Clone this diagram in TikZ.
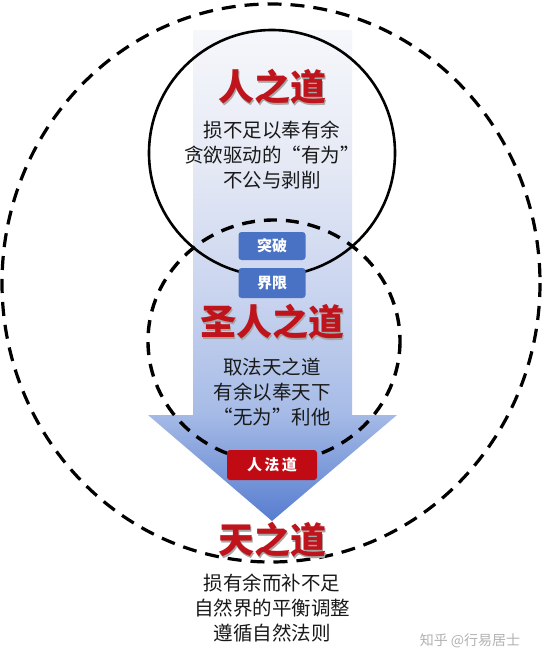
\documentclass[tikz,border=0pt]{standalone}
\usepackage{fontspec}
\newfontfamily\cjk{Noto Sans CJK SC}
\usetikzlibrary{shadings}
\definecolor{titlered}{HTML}{C0141C}
\definecolor{boxblue}{HTML}{4A72C4}
\definecolor{boxred}{HTML}{C00A14}
\definecolor{arA}{HTML}{F6F7FB}
\definecolor{arB}{HTML}{E6EAF5}
\definecolor{arC}{HTML}{C9D4EF}
\definecolor{arD}{HTML}{A6BBE6}
\definecolor{arE}{HTML}{577DD0}
\pgfdeclareverticalshading{arrowshade}{100bp}{color(0bp)=(arE); color(25bp)=(arE); color(36bp)=(arD); color(48bp)=(arC); color(62bp)=(arB); color(75bp)=(arA); color(100bp)=(arA)}
\tikzset{
  title/.style={font=\cjk\bfseries\fontsize{36}{40}\selectfont, text=titlered, inner sep=0pt},
  shadowtitle/.style={font=\cjk\bfseries\fontsize{36}{40}\selectfont, text=black!35, inner sep=0pt},
  body/.style={font=\cjk\fontsize{19.5}{25}\selectfont, align=center, inner sep=0pt, text=black!90},
  tagbox/.style={rounded corners=3pt, font=\cjk\bfseries\fontsize{15}{18}\selectfont, text=white, minimum height=28pt, inner sep=0pt},
  outerring/.style={line width=3.2pt, dash pattern=on 14pt off 9pt},
  midring/.style={line width=3.4pt, dash pattern=on 13pt off 9pt},
  solidring/.style={line width=2.6pt}
}
\begin{document}
\begin{tikzpicture}[x=1pt,y=-1pt]
\useasboundingbox (0,0) rectangle (544,670);
\fill[white] (0,0) rectangle (544,670);
% arrow
\shade[shading=arrowshade]
  (193,30) -- (352,30) -- (352,415) -- (397,415) -- (272,521) -- (148,415) -- (193,415) -- cycle;
% rings
\draw[outerring] (271,283) ellipse [x radius=269, y radius=279];
\draw[solidring] (272,153) circle [radius=123];
\draw[midring] (274,341) ellipse [x radius=126, y radius=121];
% tags
\node[tagbox, fill=boxblue, minimum width=67pt] (tupo) at (272,246) {突破};
\node[tagbox, fill=boxblue, minimum width=67pt, minimum height=30pt] (jiexian) at (272,283) {界限};
\node[tagbox, fill=boxred, minimum width=90pt, minimum height=30pt] (rfd) at (272,465) {人\,法\,道};
% titles
\node[shadowtitle] at (273.5,88.5) {人之道};
\node[title] (rzd) at (272,87) {人之道};
\node[body] (rzdtext) at (272,155) {损不足以奉有余\\贪欲驱动的“有为”\\不公与剥削};
\node[shadowtitle] at (273.5,323.5) {圣人之道};
\node[title] (srzd) at (272,322) {圣人之道};
\node[body] (srzdtext) at (272,392) {取法天之道\\有余以奉天下\\“无为”利他};
\node[shadowtitle] at (273.5,541.5) {天之道};
\node[title] (tzd) at (272,540) {天之道};
\node[body] (tzdtext) at (272,608) {损有余而补不足\\自然界的平衡调整\\遵循自然法则};
% watermark
\node[font=\cjk\fontsize{14}{16}\selectfont, text=black!30, inner sep=0pt] (wm) at (470,641) {知乎 @行易居士};
\end{tikzpicture}
\end{document}
